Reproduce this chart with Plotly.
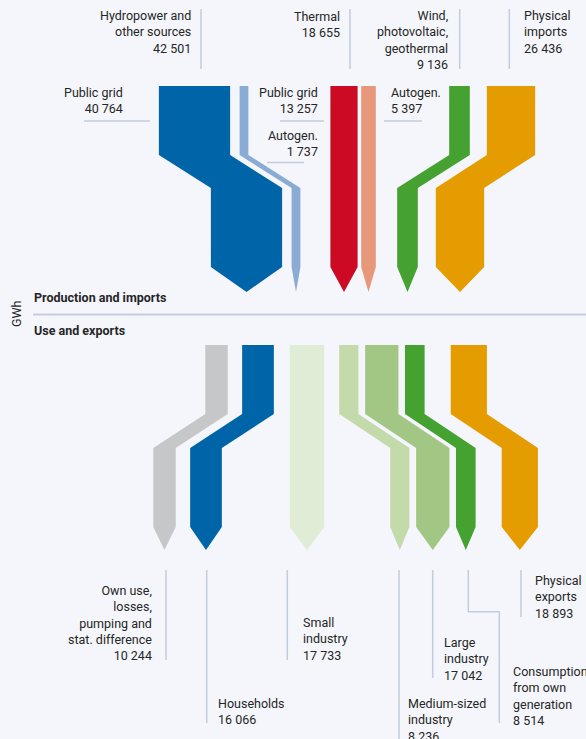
import plotly.graph_objects as go

# ---------------- data ----------------
source_names = ["Hydropower and<br>other sources", "Thermal",
                "Wind,<br>photovoltaic,<br>geothermal", "Physical<br>imports"]
source_values = [42501, 18655, 9136, 26436]

supply_names = ["Public grid", "Autogen.", "Public grid", "Autogen.",
                "Wind, photovoltaic, geothermal", "Physical imports"]
supply_values = [40764, 1737, 13257, 5397, 9136, 26436]

use_names = ["Own use,<br>losses,<br>pumping and<br>stat. difference", "Households",
             "Small<br>industry", "Medium-sized<br>industry", "Large<br>industry",
             "Consumption<br>from own<br>generation", "Physical<br>exports"]
use_values = [10244, 16066, 17733, 8236, 17042, 8514, 18893]

unit = "GWh"
section_top = "Production and imports"
section_bottom = "Use and exports"

# ---------------- layout / style ----------------
W, H = 586, 739
BG = "#f4f6fb"
LINE = "#c3ccdc"
TXT = "#262626"
FONT = "Roboto, Liberation Sans, Arial, sans-serif"
FS = 12.5

supply_colors = ["#0064a8", "#8aacd4", "#cc0a24", "#e8987a", "#45a230", "#e59c00"]
supply_cx = [194.5, 244, 344, 368.5, 459.5, 511]
supply_dx = [52, 52, 0, 0, -52, -51]
top_y = dict(t=86, b1=155, b2=188, e=267, tip=292)

use_colors = ["#c6c7c9", "#0064a8", "#e1ecd6", "#c3dbab", "#a2c683", "#45a230", "#e59c00"]
use_cx = [216.5, 258, 307, 348.8, 381.8, 414.8, 468.8]
use_dx = [-52, -52, 0, 51, 51, 51, 51]
bot_y = dict(t=345, b1=414, b2=448, e=527, tip=550)


def width(v):
    return 6 + 0.0016 * v


def fmt(v):
    return f"{v:,}".replace(",", " ")


def arrow(cx, w, dx, ys):
    x0 = cx - w / 2
    xs = [x0, x0 + w, x0 + w, x0 + w + dx, x0 + w + dx, x0 + dx + w / 2,
          x0 + dx, x0 + dx, x0, x0]
    yv = [ys["t"], ys["t"], ys["b1"], ys["b2"], ys["e"], ys["tip"],
          ys["e"], ys["b2"], ys["b1"], ys["t"]]
    return xs, yv


fig = go.Figure()

for v, cx, dx, col in zip(supply_values, supply_cx, supply_dx, supply_colors):
    xs, ys = arrow(cx, width(v), dx, top_y)
    fig.add_trace(go.Scatter(x=xs, y=ys, fill="toself", fillcolor=col, mode="lines",
                             line=dict(width=0, color=col), hoverinfo="skip", showlegend=False))

for v, cx, dx, col in zip(use_values, use_cx, use_dx, use_colors):
    xs, ys = arrow(cx, width(v), dx, bot_y)
    fig.add_trace(go.Scatter(x=xs, y=ys, fill="toself", fillcolor=col, mode="lines",
                             line=dict(width=0, color=col), hoverinfo="skip", showlegend=False))

annotations = []
shapes = []


def ann(x, y, text, anchor, bold=False, angle=0):
    annotations.append(dict(
        x=x, y=y, xref="x", yref="y", text=f"<b>{text}</b>" if bold else text,
        showarrow=False, xanchor=anchor, yanchor="middle", align=anchor if anchor != "center" else "center",
        font=dict(family=FONT, size=FS, color=TXT), textangle=angle, borderpad=0))


def seg(pts):
    path = "M " + " L ".join(f"{x},{y}" for x, y in pts)
    shapes.append(dict(type="path", path=path, xref="x", yref="y",
                       line=dict(color=LINE, width=1.5)))


# top source labels
src_lab = [(192, 32, "right", 201), (341, 24, "right", 350), (449, 40, "right", 459.7), (523, 32, "left", 509.3)]
for (x, y, a, lx), n, v in zip(src_lab, source_names, source_values):
    ann(x, y, f"{n}<br>{fmt(v)}", a)
    seg([(lx, 9), (lx, 69)])

# supply split labels
ann(124, 100, f"{supply_names[0]}<br>{fmt(supply_values[0])}", "right")
seg([(84, 121), (150, 121)])
ann(319, 100, f"{supply_names[2]}<br>{fmt(supply_values[2])}", "right")
seg([(280, 121), (324, 121)])
ann(319, 143, f"{supply_names[1]}<br>{fmt(supply_values[1])}", "right")
seg([(267, 162.5), (304, 162.5)])
ann(390, 100, f"{supply_names[3]}<br>{fmt(supply_values[3])}", "left")
seg([(384, 121), (422, 121)])

# section headers
ann(33, 297.5, section_top, "left", bold=True)
ann(33, 330, section_bottom, "left", bold=True)
ann(16, 314, unit, "center", angle=-90)
shapes.append(dict(type="line", x0=33, x1=W, y0=314.5, y1=314.5, xref="x", yref="y",
                   line=dict(color=LINE, width=2)))

# use labels
n_lines = [t.count("<br>") + 2 for t in use_names]
use_lab = [(153, 591, "right", [(166, 570), (166, 660)]),
           (217, 703, "left", [(206.7, 570), (206.7, 723)]),
           (302, 622.5, "left", [(287.3, 570), (287.3, 660)]),
           (407, 703.5, "left", [(399, 570), (399, 739)]),
           (443, 643, "left", [(432.7, 570), (432.7, 678)]),
           (512, 672, "left", [(468.3, 570), (468.3, 611.7), (499.3, 611.7), (499.3, 723)]),
           (534, 581, "left", [(521, 570), (521, 617)])]
for (x, y1, a, pts), n, v, k in zip(use_lab, use_names, use_values, n_lines):
    yc = y1 + (k - 1) * 16 / 2
    ann(x, yc, f"{n}<br>{fmt(v)}", a)
    seg(pts)

fig.update_layout(
    width=W, height=H, margin=dict(l=0, r=0, t=0, b=0),
    paper_bgcolor=BG, plot_bgcolor=BG,
    xaxis=dict(range=[0, W], visible=False, fixedrange=True),
    yaxis=dict(range=[H, 0], visible=False, fixedrange=True),
    annotations=annotations, shapes=shapes, showlegend=False,
)

fig.write_html(
    "out.html",
    config={"displayModeBar": False},
    post_script="document.body.style.margin='0';document.body.style.overflow='hidden';"
                "document.body.style.background='" + BG + "';",
)
